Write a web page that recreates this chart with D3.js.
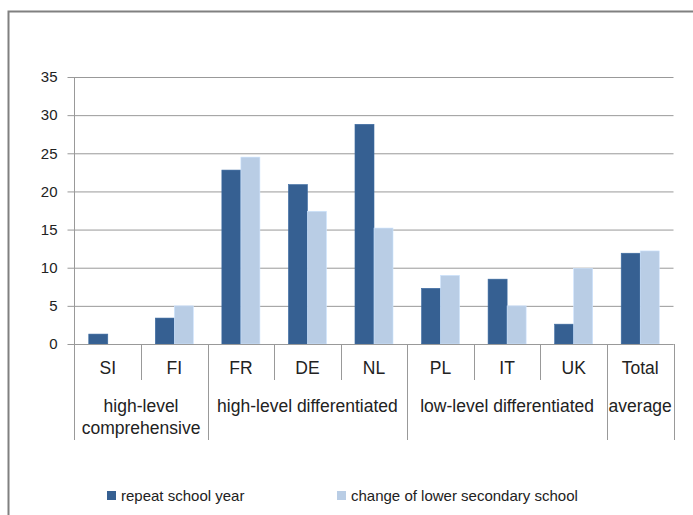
<!DOCTYPE html>
<html>
<head>
<meta charset="utf-8">
<script src="https://cdn.jsdelivr.net/npm/d3@7"></script>
<style>
  html, body { margin: 0; padding: 0; background: #fff; }
  svg { display: block; font-family: "Liberation Sans", Arial, sans-serif; }
</style>
</head>
<body>
<svg id="chart" width="693" height="515"></svg>
<script>
// Countries and their school-system group
const countries = ["SI", "FI", "FR", "DE", "NL", "PL", "IT", "UK", "Total"];
const groups = [
  { lines: ["high-level", "comprehensive"], from: 0, to: 2 },
  { lines: ["high-level differentiated"], from: 2, to: 5 },
  { lines: ["low-level differentiated"], from: 5, to: 8 },
  { lines: ["average"], from: 8, to: 9 }
];
const seriesNames = ["repeat school year", "change of lower secondary school"];
const repeatYear = [1.3, 3.4, 22.8, 20.9, 28.8, 7.3, 8.5, 2.6, 11.9];
const changeSchool = [0, 5.0, 24.5, 17.4, 15.2, 9.0, 5.0, 9.9, 12.2];
const yTicks = [0, 5, 10, 15, 20, 25, 30, 35];
const colors = ["#366092", "#b9cde5"];

const svg = d3.select("#chart");

// outer frame (top and left edges)
svg.append("path")
  .attr("d", "M8.5,515 V11.5 H693")
  .attr("fill", "none").attr("stroke", "#808080").attr("stroke-width", 2);

const plotL = 74.5, plotR = 673.5, plotT = 77, plotB = 344;

const x = d3.scaleBand().domain(d3.range(countries.length)).range([plotL, plotR]).paddingInner(0).paddingOuter(0);
const inner = d3.scaleBand().domain([0, 1]).range([0, x.bandwidth()]).paddingInner(0).paddingOuter(0.75);
const y = d3.scaleLinear().domain([0, 35]).range([plotB, plotT]);

// gridlines and y ticks
const yAxis = d3.axisLeft(y).tickValues(yTicks).tickSize(7).tickPadding(10);
const yG = svg.append("g").attr("transform", `translate(${plotL},0)`).call(yAxis);
yG.select(".domain").remove();
yG.selectAll(".tick line").attr("stroke", "#999").attr("x2", plotR - plotL).attr("x1", -7);
yG.selectAll(".tick text").attr("font-size", 15).attr("fill", "#222").attr("font-family", "Liberation Sans, Arial, sans-serif");

// bars
const seriesData = [repeatYear, changeSchool];
seriesData.forEach((vals, s) => {
  svg.append("g").selectAll("rect").data(vals).join("rect")
    .attr("x", (d, i) => x(i) + inner(s))
    .attr("y", d => y(d))
    .attr("width", inner.bandwidth())
    .attr("height", d => y(0) - y(d))
    .attr("fill", colors[s])
    .attr("stroke", d => d > 0 ? d3.color(colors[s]).brighter(0.3) : "none")
    .attr("stroke-width", 0.6);
});

// category axis lines
const axG = svg.append("g").attr("stroke", "#999").attr("fill", "none");
axG.append("line").attr("x1", plotL).attr("x2", plotR).attr("y1", plotB + 0.5).attr("y2", plotB + 0.5);
axG.append("line").attr("x1", plotL).attr("x2", plotL).attr("y1", plotT).attr("y2", 440);
const groupEdges = new Set(groups.map(g => g.to));
d3.range(1, countries.length + 1).forEach(i => {
  const xp = Math.round(x(i - 1) + x.bandwidth()) + 0.5;
  axG.append("line").attr("x1", xp).attr("x2", xp)
    .attr("y1", plotB).attr("y2", groupEdges.has(i) ? 440 : 380);
});

// country labels
svg.append("g").selectAll("text").data(countries).join("text")
  .attr("x", (d, i) => x(i) + x.bandwidth() / 2)
  .attr("y", 368).attr("dy", "0.35em")
  .attr("text-anchor", "middle").attr("font-size", 17.5).attr("fill", "#222")
  .text(d => d);

// group labels
groups.forEach(g => {
  const cx = (x(g.from) + x(g.to - 1) + x.bandwidth()) / 2;
  g.lines.forEach((t, k) => {
    svg.append("text").attr("x", cx).attr("y", 406 + k * 22).attr("dy", "0.35em")
      .attr("text-anchor", "middle").attr("font-size", 17.5).attr("fill", "#222").text(t);
  });
});

// legend
const legendX = [107, 337];
seriesNames.forEach((name, s) => {
  const g = svg.append("g").attr("transform", `translate(${legendX[s]},491)`);
  g.append("rect").attr("width", 9).attr("height", 9).attr("fill", colors[s]);
  g.append("text").attr("x", 14).attr("y", 4.5).attr("dy", "0.35em")
    .attr("font-size", 15).attr("fill", "#222").text(name);
});
</script>
</body>
</html>
